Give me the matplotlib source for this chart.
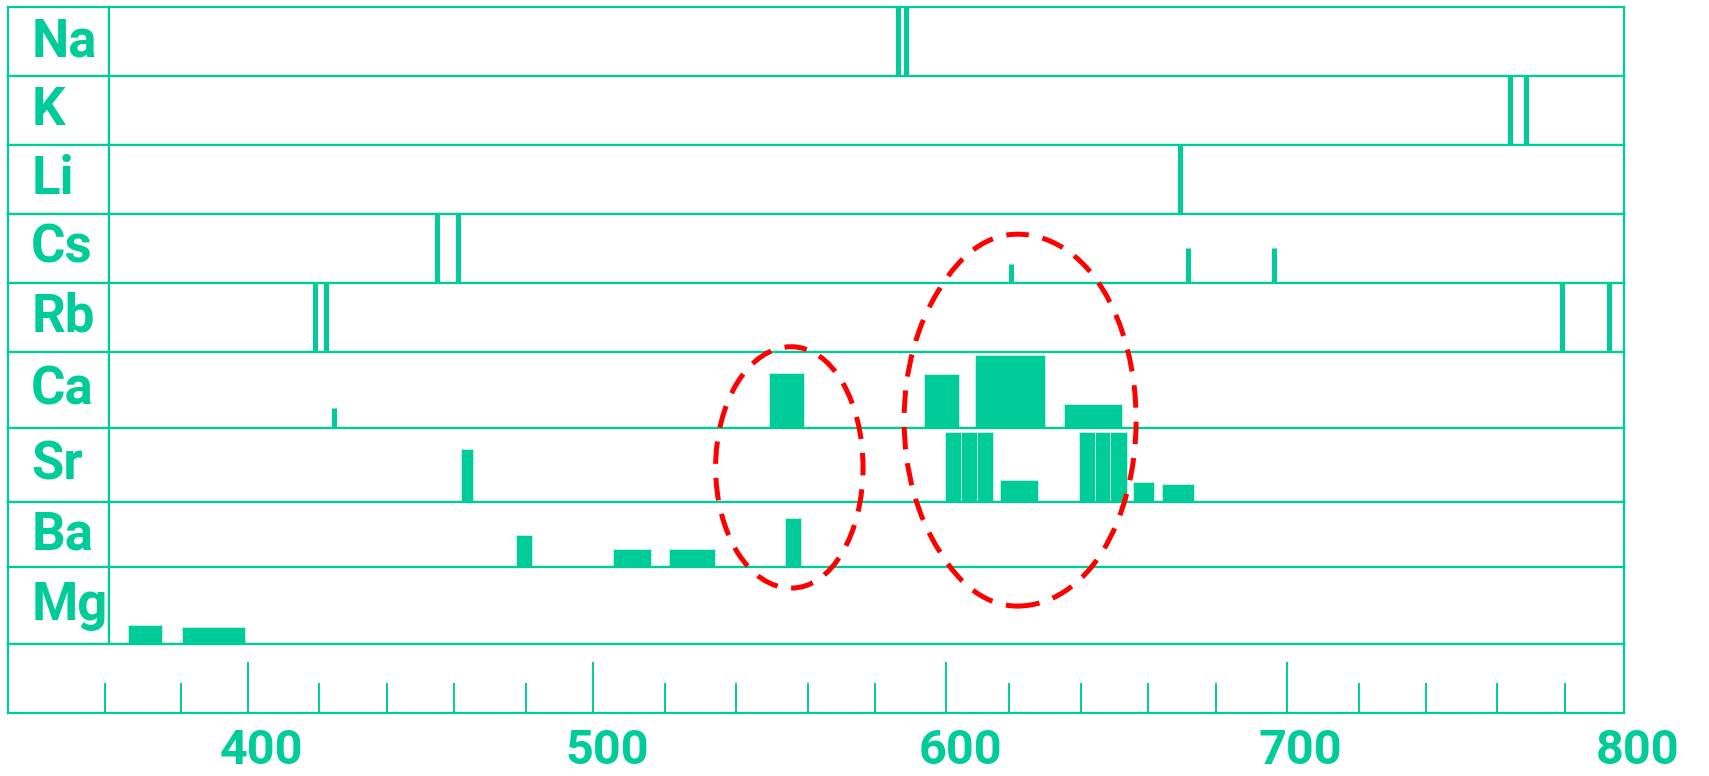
import matplotlib
matplotlib.use('Agg')
import matplotlib.pyplot as plt
import numpy as np
from matplotlib.patches import Ellipse
from matplotlib.transforms import ScaledTranslation

GREEN = '#00CC99'

# flame emission of the elements, top to bottom
elements = ['Na', 'K', 'Li', 'Cs', 'Rb', 'Ca', 'Sr', 'Ba', 'Mg']

# sharp lines: wavelength (nm) and height as fraction of the row
na_lines = [586.4, 588.7]
na_line_h = [1.0, 1.0]
k_lines = [763.8, 768.7]
k_line_h = [1.0, 1.0]
li_lines = [669.3]
li_line_h = [1.0]
cs_lines = [454.9, 461.2, 620.6, 671.8, 696.4]
cs_line_h = [1.0, 1.0, 0.27, 0.5, 0.5]
rb_lines = [418.8, 421.9, 779.4, 795.0]
rb_line_h = [1.0, 1.0, 1.0, 1.0]
ca_lines = [424.4]
ca_line_h = [0.26]

# bands: start, end (nm) and height
ca_band_lo = [549.2, 593.7, 609.3, 635.4]
ca_band_hi = [559.1, 604.1, 630.0, 652.3]
ca_band_h = [0.72, 0.71, 0.96, 0.32]
sr_band_lo = [462.0, 599.6, 604.7, 609.7, 617.1, 639.5, 644.3, 648.7, 655.4, 664.2]
sr_band_hi = [465.2, 604.7, 609.7, 614.8, 628.0, 644.3, 648.7, 653.6, 661.8, 673.6]
sr_band_h = [0.72, 0.95, 0.95, 0.95, 0.30, 0.95, 0.95, 0.95, 0.27, 0.25]
ba_band_lo = [477.3, 505.6, 521.3, 553.7]
ba_band_hi = [481.8, 516.2, 534.1, 558.1]
ba_band_h = [0.49, 0.28, 0.28, 0.76]
mg_band_lo = [366.1, 380.4]
mg_band_hi = [375.1, 399.3]
mg_band_h = [0.25, 0.22]

lines = {'Na': (na_lines, na_line_h), 'K': (k_lines, k_line_h), 'Li': (li_lines, li_line_h),
         'Cs': (cs_lines, cs_line_h), 'Rb': (rb_lines, rb_line_h), 'Ca': (ca_lines, ca_line_h)}
bands = {'Ca': (ca_band_lo, ca_band_hi, ca_band_h), 'Sr': (sr_band_lo, sr_band_hi, sr_band_h),
         'Ba': (ba_band_lo, ba_band_hi, ba_band_h), 'Mg': (mg_band_lo, mg_band_hi, mg_band_h)}

major_nm = [400, 500, 600, 700, 800]

# the hand drawn ruler is not evenly spaced, so calibrate the x scale on its ticks
ruler_nm = np.r_[300, np.arange(360, 801, 20), 900]
ruler_px = np.r_[105 - 60 * 3.785,
                 105, 180.7, 247.7, 319.3, 386.7, 454, 525.7, 592.9, 664.5, 736, 807.6,
                 874.8, 946.3, 1009, 1080.7, 1148.3, 1215.7, 1286.8, 1358.6, 1425.8,
                 1496.9, 1564.5, 1623.5,
                 1623.5 + 100 * 2.95]


def fwd(x):
    return np.interp(x, ruler_nm, ruler_px)


def inv(p):
    return np.interp(p, ruler_px, ruler_nm)


W, H = 1709, 776
fig = plt.figure(figsize=(W / 100, H / 100), dpi=100)


def box(x0, y0, x1, y1):
    return [x0 / W, 1 - y1 / H, (x1 - x0) / W, (y1 - y0) / H]


def frame(ax):
    ax.set_xticks([])
    ax.set_yticks([])
    for s in ax.spines.values():
        s.set_color(GREEN)
        s.set_linewidth(1.6)


row_edges = [7.3, 76, 145, 214, 282.7, 352, 428.3, 502, 567, 644, 713]
x_left, x_div, x_right = 8, 109, 1624

for i, name in enumerate(elements):
    y0, y1 = row_edges[i], row_edges[i + 1]
    lab = fig.add_axes(box(x_left, y0, x_div, y1))
    frame(lab)
    lab.text(0.23, 0.5, name, transform=lab.transAxes, ha='left', va='center',
             fontsize=38, fontweight='bold', color=GREEN, family=['Roboto', 'DejaVu Sans'])

    ax = fig.add_axes(box(x_div, y0, x_right, y1))
    ax.set_xscale('function', functions=(fwd, inv))
    ax.set_xlim(inv(x_div), inv(x_right))
    ax.set_ylim(0, 1)
    frame(ax)
    if name in bands:
        lo, hi, h = bands[name]
        ax.bar(lo, h, width=np.array(hi) - np.array(lo), align='edge',
               color=GREEN, edgecolor='#BDF2E0', linewidth=0.7)
    if name in lines:
        x, h = lines[name]
        ax.vlines(x, 0, h, color=GREEN, linewidth=3.6, capstyle='butt')

# wavelength ruler
rax = fig.add_axes(box(x_left, row_edges[-2], x_right, row_edges[-1]))
rax.set_xscale('function', functions=(fwd, inv))
rax.set_xlim(inv(x_left), inv(x_right))
rax.set_ylim(0, 1)
frame(rax)
rax.set_xticks(major_nm)
rax.set_xticks([v for v in range(360, 800, 20) if v not in major_nm], minor=True)
rax.set_xticklabels([str(v) for v in major_nm])
rax.tick_params(axis='x', which='major', direction='in', length=36.7, width=1.4,
                color=GREEN, labelcolor=GREEN, labelsize=35, pad=10.5)
rax.tick_params(axis='x', which='minor', direction='in', length=21.6, width=1.4, color=GREEN)
for lbl in rax.get_xticklabels():
    lbl.set_fontweight('bold')
    lbl.set_family(['Roboto', 'DejaVu Sans'])
    lbl.set_transform(lbl.get_transform() + ScaledTranslation(0.14, 0, fig.dpi_scale_trans))

# dashed red ellipses marking the Ca / Sr / Ba overlap regions
ov = fig.add_axes(box(x_div, row_edges[0], x_right, row_edges[-1]), zorder=10)
ov.set_xscale('function', functions=(fwd, inv))
ov.set_xlim(inv(x_div), inv(x_right))
ov.set_ylim(0, 1)
ov.axis('off')
ov.patch.set_alpha(0)
for xc, w, yc, hh in [(555.4, 42.2, 0.348, 0.342), (622.3, 68.2, 0.415, 0.527)]:
    ov.add_patch(Ellipse((xc, yc), w, hh, fill=False, edgecolor='red', linewidth=3.6,
                         linestyle=(0, (4.5, 2.8))))

fig.savefig('out.png', dpi=100)
